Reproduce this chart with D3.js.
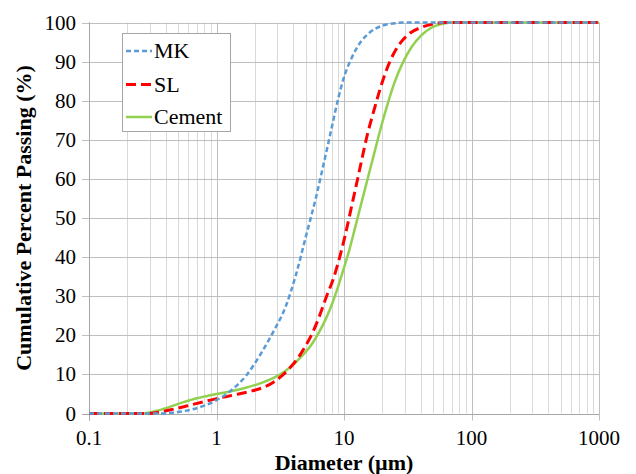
<!DOCTYPE html>
<html>
<head>
<meta charset="utf-8">
<script src="https://cdn.jsdelivr.net/npm/d3@7"></script>
<style>
  svg text { font-family: "Times New Roman", "Liberation Serif", Tinos, serif; }
</style>
</head>
<body style="margin:0">
<svg id="s" width="636" height="474" font-family="Times New Roman"></svg>
<script>
// ---- data (diameter in µm, cumulative percent passing) ----
const mkDiameter = [0.1, 0.35, 0.45, 0.6, 0.8, 1.0, 1.3, 1.7, 2.2, 2.8, 3.5, 4.2, 5.0, 6.0, 7.0, 8.0, 9.0, 10, 11.5, 13.5, 16, 20, 25, 31, 1000];
const mkPassing  = [0, 0, 0.2, 0.8, 2.0, 3.4, 5.9, 9.6, 15, 21, 27.5, 35.5, 45, 55, 64.5, 73, 80.5, 86, 91, 95, 97.5, 99.2, 99.8, 100, 100];

const slDiameter = [0.1, 0.29, 0.35, 0.43, 0.58, 0.79, 1.0, 1.4, 1.8, 2.3, 2.8, 3.3, 3.8, 4.4, 5.0, 5.6, 6.4, 7.3, 8.2, 9.2, 10.2, 11.3, 12.5, 13.8, 15.3, 17, 19, 21.5, 24.5, 28, 33, 40, 50, 60, 1000];
const slPassing  = [0, 0, 0.3, 0.9, 1.9, 3.0, 3.8, 4.8, 5.6, 6.6, 8.0, 9.8, 11.8, 14.4, 17.3, 20.3, 24.8, 30, 34.2, 39.7, 45.5, 52, 58.5, 65, 71.5, 77, 82.5, 87.8, 92, 95, 97.3, 98.7, 99.6, 100, 100];

const cemDiameter = [0.1, 0.26, 0.3, 0.35, 0.43, 0.55, 0.7, 0.85, 1.0, 1.3, 1.7, 2.2, 2.8, 3.4, 4.0, 4.7, 5.5, 6.3, 7.2, 8.1, 9.0, 10, 11, 12, 13.2, 14.5, 16, 17.5, 19.5, 22, 25, 29, 34, 40, 48, 58, 70, 1000];
const cemPassing  = [0, 0, 0.25, 0.8, 1.7, 2.9, 3.9, 4.5, 5.0, 5.7, 6.6, 7.7, 9.1, 10.7, 12.5, 14.8, 17.4, 20.5, 24.2, 28.2, 32.5, 37.3, 41.8, 46.5, 51.8, 57, 62.4, 67.3, 73.2, 79.2, 84.8, 89.8, 93.8, 96.6, 98.6, 99.6, 100, 100];

const seriesNames = ["MK", "SL", "Cement"];
const xTickValues = [0.1, 1, 10, 100, 1000];
const xTickLabels = ["0.1", "1", "10", "100", "1000"];
const yTickValues = [0, 10, 20, 30, 40, 50, 60, 70, 80, 90, 100];
const xTitle = "Diameter (µm)";
const yTitle = "Cumulative Percent Passing (%)";

const FONT = "Times New Roman";

// ---- setup ----
const svg = d3.select("#s");
const x = d3.scaleLog().domain([0.1, 1000]).range([89, 599]);
const y = d3.scaleLinear().domain([0, 100]).range([413.5, 22.5]);

const series = [
  { name: seriesNames[0], xs: mkDiameter, ys: mkPassing, color: "#5B9BD5", width: 2.5, dash: "5,3" },
  { name: seriesNames[1], xs: slDiameter, ys: slPassing, color: "#FF0000", width: 3, dash: "10,5" },
  { name: seriesNames[2], xs: cemDiameter, ys: cemPassing, color: "#92D050", width: 2.5, dash: null }
];

// ---- grid ----
const grid = svg.append("g");
const minorVals = [];
const majorVals = [];
for (let e = -1; e <= 3; e++) {
  for (let m = 1; m <= 9; m++) {
    const v = m * Math.pow(10, e);
    if (v > 1000 * 1.0001) continue;
    if (m === 1) majorVals.push(v); else minorVals.push(v);
  }
}
grid.selectAll("line.minor").data(minorVals).join("line")
  .attr("x1", d => Math.round(x(d)) + 0.5).attr("x2", d => Math.round(x(d)) + 0.5)
  .attr("y1", y(100)).attr("y2", y(0))
  .attr("stroke", "#d9d9d9").attr("stroke-width", 1);
grid.selectAll("line.h").data(yTickValues).join("line")
  .attr("x1", x(0.1) - 7).attr("x2", x(1000))
  .attr("y1", d => Math.round(y(d)) + 0.5).attr("y2", d => Math.round(y(d)) + 0.5)
  .attr("stroke", "#bfbfbf").attr("stroke-width", 1);
grid.selectAll("line.major").data(majorVals).join("line")
  .attr("x1", d => Math.round(x(d)) + 0.5).attr("x2", d => Math.round(x(d)) + 0.5)
  .attr("y1", y(100)).attr("y2", y(0) + 7)
  .attr("stroke", "#bfbfbf").attr("stroke-width", 1);

// axis lines
svg.append("line")
  .attr("x1", Math.round(x(0.1)) + 0.5).attr("x2", Math.round(x(0.1)) + 0.5)
  .attr("y1", y(100)).attr("y2", y(0) + 7)
  .attr("stroke", "#a6a6a6");
svg.append("line")
  .attr("x1", x(0.1) - 7).attr("x2", x(1000))
  .attr("y1", Math.round(y(0)) + 0.5).attr("y2", Math.round(y(0)) + 0.5)
  .attr("stroke", "#a6a6a6");

// ---- tick labels ----
svg.append("g").selectAll("text").data(yTickValues).join("text")
  .attr("x", 76).attr("y", d => y(d) + 7)
  .attr("text-anchor", "end").attr("font-size", 21).attr("font-family", FONT)
  .text(d => d);
svg.append("g").selectAll("text").data(xTickValues).join("text")
  .attr("x", d => x(d)).attr("y", 445)
  .attr("text-anchor", "middle").attr("font-size", 21).attr("font-family", FONT)
  .text((d, i) => xTickLabels[i]);

// ---- titles ----
svg.append("text")
  .attr("x", (x(0.1) + x(1000)) / 2).attr("y", 470)
  .attr("text-anchor", "middle").attr("font-size", 22).attr("font-weight", "bold").attr("font-family", FONT)
  .text(xTitle);
svg.append("text")
  .attr("transform", `translate(31,${(y(0) + y(100)) / 2}) rotate(-90)`)
  .attr("text-anchor", "middle").attr("font-size", 22).attr("font-weight", "bold").attr("font-family", FONT)
  .text(yTitle);

// ---- lines ----
const line = d3.line().x(d => x(d[0])).y(d => y(d[1])).curve(d3.curveMonotoneX);
const order = [2, 1, 0];
order.forEach(i => {
  const s = series[i];
  const pts = s.xs.map((v, j) => [v, s.ys[j]]);
  svg.append("path").datum(pts)
    .attr("d", line)
    .attr("fill", "none")
    .attr("stroke", s.color)
    .attr("stroke-width", s.width)
    .attr("stroke-dasharray", s.dash)
    .attr("stroke-linejoin", "round");
});

// ---- legend ----
const lg = svg.append("g");
lg.append("rect").attr("x", 122.5).attr("y", 33.5).attr("width", 108).attr("height", 98)
  .attr("fill", "#fff").attr("stroke", "#a6a6a6");
const legY = [51, 84.5, 117];
series.forEach((s, i) => {
  lg.append("line").attr("x1", 126).attr("x2", 152)
    .attr("y1", legY[i]).attr("y2", legY[i])
    .attr("stroke", s.color).attr("stroke-width", s.width)
    .attr("stroke-dasharray", s.dash);
  lg.append("text").attr("x", 154).attr("y", legY[i] + 7)
    .attr("font-size", 22).attr("font-family", FONT).text(s.name);
});
</script>
</body>
</html>
